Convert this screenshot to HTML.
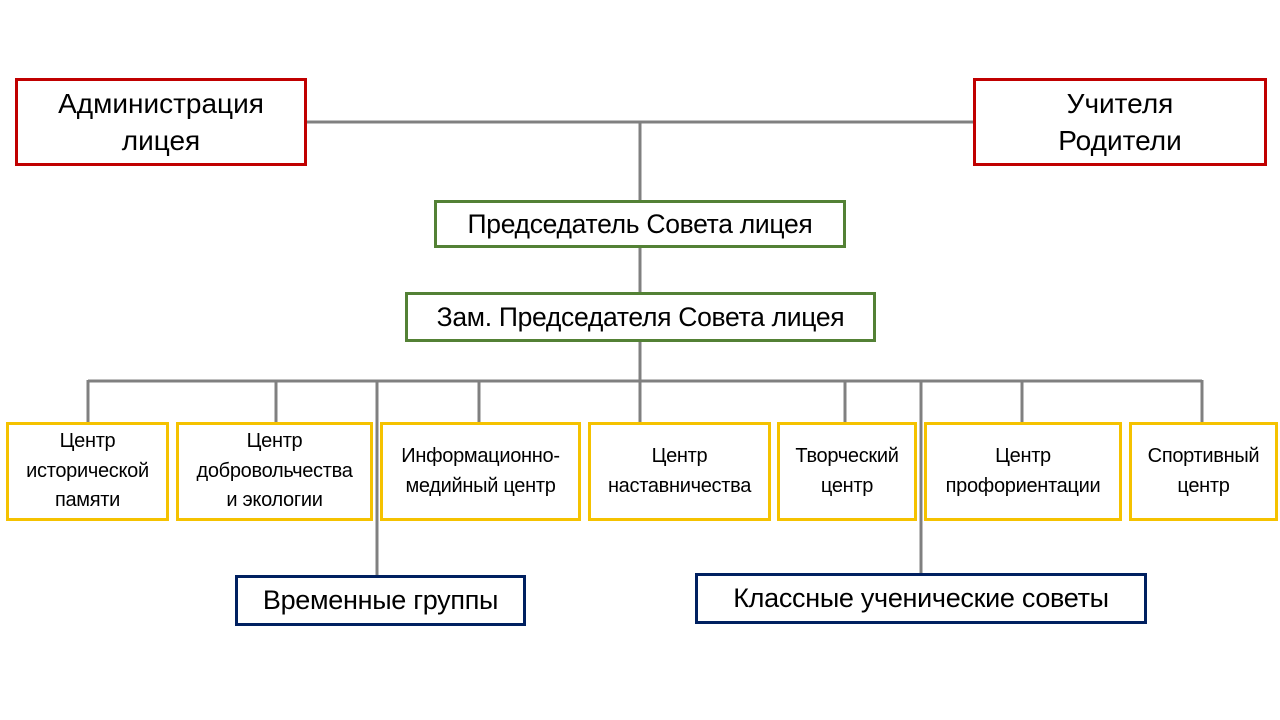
<!DOCTYPE html>
<html><head><meta charset="utf-8">
<style>
body{margin:0;width:1280px;height:720px;background:#fff;position:relative;overflow:hidden;font-family:"Liberation Sans",sans-serif;color:#000}
.b{position:absolute;box-sizing:border-box;display:flex;align-items:center;justify-content:center;text-align:center;background:#fff;white-space:nowrap}
.r{border:3px solid #C00000;font-size:28px;line-height:37px}
.g{border:3px solid #538135;font-size:26.5px;letter-spacing:-0.3px}
.y{border:3px solid #F5C200;font-size:20px;line-height:29.5px;letter-spacing:-0.3px}
.n{border:3px solid #002060;font-size:27px;letter-spacing:-0.3px}
svg{position:absolute;left:0;top:0}
</style></head><body>
<svg width="1280" height="720">
<g stroke="#808080" stroke-width="3" fill="none">
<line x1="306" y1="122" x2="973" y2="122"/>
<line x1="640" y1="122" x2="640" y2="200"/>
<line x1="640" y1="247" x2="640" y2="292"/>
<line x1="640" y1="341" x2="640" y2="381"/>
<line x1="88" y1="381" x2="1202" y2="381"/>
<line x1="88" y1="380" x2="88" y2="422"/>
<line x1="276" y1="381" x2="276" y2="422"/>
<line x1="479" y1="381" x2="479" y2="422"/>
<line x1="640" y1="381" x2="640" y2="422"/>
<line x1="845" y1="381" x2="845" y2="422"/>
<line x1="1022" y1="381" x2="1022" y2="422"/>
<line x1="1202" y1="380" x2="1202" y2="422"/>
<line x1="377" y1="381" x2="377" y2="575"/>
<line x1="921" y1="381" x2="921" y2="573"/>
</g></svg>
<div class="b r" style="left:15px;top:78px;width:292px;height:88px">Администрация<br>лицея</div>
<div class="b r" style="left:973px;top:78px;width:294px;height:88px">Учителя<br>Родители</div>
<div class="b g" style="left:434px;top:200px;width:412px;height:48px">Председатель Совета лицея</div>
<div class="b g" style="left:405px;top:292px;width:471px;height:50px">Зам. Председателя Совета лицея</div>
<div class="b y" style="left:6px;top:422px;width:163px;height:99px">Центр<br>исторической<br>памяти</div>
<div class="b y" style="left:176px;top:422px;width:197px;height:99px">Центр<br>добровольчества<br>и экологии</div>
<div class="b y" style="left:380px;top:422px;width:201px;height:99px">Информационно-<br>медийный центр</div>
<div class="b y" style="left:588px;top:422px;width:183px;height:99px">Центр<br>наставничества</div>
<div class="b y" style="left:777px;top:422px;width:140px;height:99px">Творческий<br>центр</div>
<div class="b y" style="left:924px;top:422px;width:198px;height:99px">Центр<br>профориентации</div>
<div class="b y" style="left:1129px;top:422px;width:149px;height:99px">Спортивный<br>центр</div>
<div class="b n" style="left:235px;top:575px;width:291px;height:51px">Временные группы</div>
<div class="b n" style="left:695px;top:573px;width:452px;height:51px">Классные ученические советы</div>
</body></html>
